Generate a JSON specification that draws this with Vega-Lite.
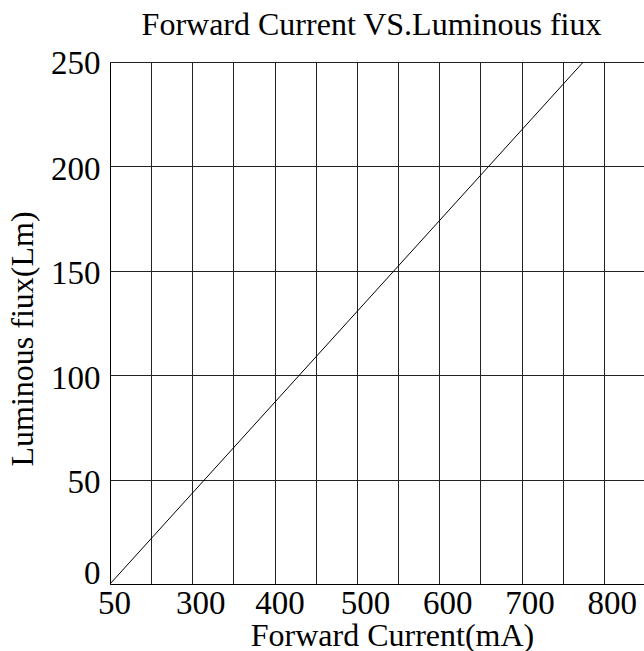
{
  "$schema": "https://vega.github.io/schema/vega-lite/v6.json",
  "width": 535,
  "height": 522,
  "autosize": "none",
  "padding": {"left": 110, "top": 62, "right": 0, "bottom": 67},
  "background": "white",
  "title": {
    "text": "Forward Current VS.Luminous fiux",
    "font": "Liberation Serif",
    "fontSize": 32,
    "fontWeight": "normal",
    "color": "#000000",
    "anchor": "middle",
    "frame": "group",
    "dx": -6,
    "baseline": "alphabetic",
    "offset": -20
  },
  "data": {"values": [
    {"current": 200, "flux": 0},
    {"current": 775, "flux": 250}
  ]},
  "mark": {"type": "line", "color": "#000000", "strokeWidth": 1, "clip": true},
  "encoding": {
    "x": {
      "field": "current",
      "type": "quantitative",
      "scale": {"domain": [200, 850], "nice": false, "zero": false},
      "axis": {
        "values": [200, 250, 300, 350, 400, 450, 500, 550, 600, 650, 700, 750, 800, 850],
        "labelExpr": "datum.value == 200 ? '50' : ((datum.value % 100 == 0 && datum.value <= 800) ? datum.label : '')",
        "grid": true,
        "gridColor": "#222222",
        "gridWidth": 1,
        "gridOpacity": 1,
        "domain": true,
        "domainColor": "#000000",
        "domainWidth": 1,
        "ticks": false,
        "tickSize": 0,
        "labelFont": "Liberation Serif",
        "labelFontSize": 33,
        "labelColor": "#000000",
        "labelBaseline": "alphabetic",
        "labelPadding": 29,
        "labelAlign": "center",
        "labelOverlap": false,
        "labelFlush": false,
        "labelOffset": {"condition": [{"test": "datum.value == 200", "value": 4}, {"test": "datum.value == 400", "value": 5}], "value": 8},
        "title": "Forward Current(mA)",
        "titleFont": "Liberation Serif",
        "titleFontSize": 32,
        "titleFontWeight": "normal",
        "titleColor": "#000000",
        "titleX": 282,
        "titleY": 61,
        "titleAlign": "center",
        "titleBaseline": "alphabetic"
      }
    },
    "y": {
      "field": "flux",
      "type": "quantitative",
      "scale": {"domain": [0, 250], "nice": false},
      "axis": {
        "values": [0, 50, 100, 150, 200, 250],
        "grid": true,
        "gridColor": "#222222",
        "gridWidth": 1,
        "gridOpacity": 1,
        "domain": true,
        "domainColor": "#000000",
        "domainWidth": 1,
        "ticks": false,
        "tickSize": 0,
        "labelFont": "Liberation Serif",
        "labelFontSize": 33,
        "labelColor": "#000000",
        "labelBaseline": "alphabetic",
        "labelAlign": "right",
        "labelPadding": 10,
        "labelOverlap": false,
        "labelFlush": false,
        "labelOffset": {"condition": [{"test": "datum.value == 0", "value": -1}, {"test": "datum.value == 250", "value": 11}], "value": 13},
        "title": "Luminous fiux(Lm)",
        "titleFont": "Liberation Serif",
        "titleFontSize": 32,
        "titleFontWeight": "normal",
        "titleColor": "#000000",
        "titleAngle": -90,
        "titleX": -88,
        "titleY": 276.5,
        "titleAlign": "center",
        "titleBaseline": "middle"
      }
    }
  },
  "config": {"view": {"stroke": null}}
}
